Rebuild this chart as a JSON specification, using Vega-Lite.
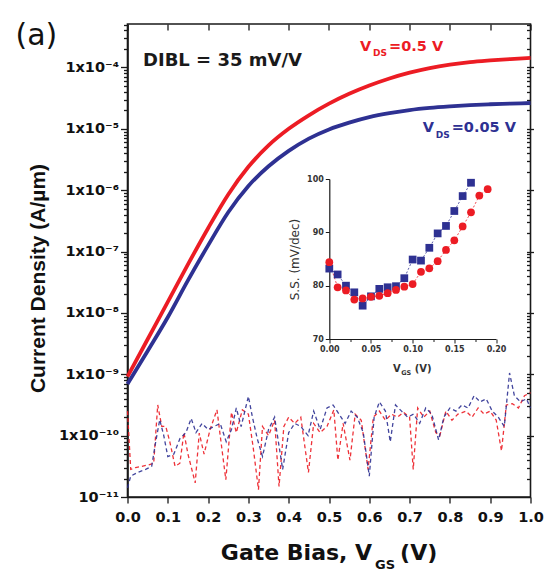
{
  "$schema": "https://vega.github.io/schema/vega-lite/v6.json",
  "width": 403,
  "height": 473,
  "autosize": {"type": "none"},
  "padding": {"left": 127.5, "top": 24, "right": 22.5, "bottom": 76},
  "background": "white",
  "title": {"text": "(a)", "anchor": "start", "frame": "group", "dx": -112, "dy": 63, "offset": 0, "baseline": "alphabetic", "font": "DejaVu Sans", "fontSize": 30, "fontWeight": "normal", "color": "#111111"},
  "config": {
    "view": {"stroke": "#1a1a1a", "strokeWidth": 1.6},
    "axis": {"grid": false, "domainColor": "#1a1a1a", "domainWidth": 1.6, "tickColor": "#1a1a1a", "tickWidth": 1.3, "labelColor": "#111111", "titleColor": "#111111", "labelFont": "DejaVu Sans", "labelFontWeight": "bold", "labelOverlap": false, "labelFlush": false, "labelBound": false}
  },
  "datasets": {
    "curves": [
      {"V": 0.00, "J": 9.12e-10, "Vds": "0.5 V"}, {"V": 0.05, "J": 3.72e-9, "Vds": "0.5 V"}, {"V": 0.10, "J": 1.51e-8, "Vds": "0.5 V"},
      {"V": 0.15, "J": 6.17e-8, "Vds": "0.5 V"}, {"V": 0.20, "J": 2.40e-7, "Vds": "0.5 V"}, {"V": 0.25, "J": 8.51e-7, "Vds": "0.5 V"},
      {"V": 0.30, "J": 2.40e-6, "Vds": "0.5 V"}, {"V": 0.35, "J": 5.37e-6, "Vds": "0.5 V"}, {"V": 0.40, "J": 1.00e-5, "Vds": "0.5 V"},
      {"V": 0.45, "J": 1.66e-5, "Vds": "0.5 V"}, {"V": 0.50, "J": 2.57e-5, "Vds": "0.5 V"}, {"V": 0.55, "J": 3.72e-5, "Vds": "0.5 V"},
      {"V": 0.60, "J": 5.07e-5, "Vds": "0.5 V"}, {"V": 0.65, "J": 6.61e-5, "Vds": "0.5 V"}, {"V": 0.70, "J": 8.22e-5, "Vds": "0.5 V"},
      {"V": 0.75, "J": 9.77e-5, "Vds": "0.5 V"}, {"V": 0.80, "J": 1.11e-4, "Vds": "0.5 V"}, {"V": 0.85, "J": 1.22e-4, "Vds": "0.5 V"},
      {"V": 0.90, "J": 1.30e-4, "Vds": "0.5 V"}, {"V": 0.95, "J": 1.37e-4, "Vds": "0.5 V"}, {"V": 1.00, "J": 1.43e-4, "Vds": "0.5 V"},
      {"V": 0.00, "J": 6.92e-10, "Vds": "0.05 V"}, {"V": 0.05, "J": 2.40e-9, "Vds": "0.05 V"}, {"V": 0.10, "J": 8.51e-9, "Vds": "0.05 V"},
      {"V": 0.15, "J": 3.39e-8, "Vds": "0.05 V"}, {"V": 0.20, "J": 1.26e-7, "Vds": "0.05 V"}, {"V": 0.25, "J": 4.37e-7, "Vds": "0.05 V"},
      {"V": 0.30, "J": 1.17e-6, "Vds": "0.05 V"}, {"V": 0.35, "J": 2.45e-6, "Vds": "0.05 V"}, {"V": 0.40, "J": 4.37e-6, "Vds": "0.05 V"},
      {"V": 0.45, "J": 6.92e-6, "Vds": "0.05 V"}, {"V": 0.50, "J": 9.77e-6, "Vds": "0.05 V"}, {"V": 0.55, "J": 1.26e-5, "Vds": "0.05 V"},
      {"V": 0.60, "J": 1.55e-5, "Vds": "0.05 V"}, {"V": 0.65, "J": 1.80e-5, "Vds": "0.05 V"}, {"V": 0.70, "J": 2.02e-5, "Vds": "0.05 V"},
      {"V": 0.75, "J": 2.19e-5, "Vds": "0.05 V"}, {"V": 0.80, "J": 2.32e-5, "Vds": "0.05 V"}, {"V": 0.85, "J": 2.43e-5, "Vds": "0.05 V"},
      {"V": 0.90, "J": 2.51e-5, "Vds": "0.05 V"}, {"V": 0.95, "J": 2.57e-5, "Vds": "0.05 V"}, {"V": 1.00, "J": 2.63e-5, "Vds": "0.05 V"}
    ],
    "noise": [
      {"V": 0.000, "J": 2.51e-10, "Vds": "0.5 V"}, {"V": 0.008, "J": 2.82e-11, "Vds": "0.5 V"}, {"V": 0.020, "J": 3.02e-11, "Vds": "0.5 V"},
      {"V": 0.035, "J": 3.16e-11, "Vds": "0.5 V"}, {"V": 0.050, "J": 3.31e-11, "Vds": "0.5 V"}, {"V": 0.065, "J": 3.55e-11, "Vds": "0.5 V"},
      {"V": 0.075, "J": 3.16e-10, "Vds": "0.5 V"}, {"V": 0.085, "J": 1.41e-10, "Vds": "0.5 V"}, {"V": 0.095, "J": 1.41e-10, "Vds": "0.5 V"},
      {"V": 0.105, "J": 7.94e-11, "Vds": "0.5 V"}, {"V": 0.118, "J": 3.16e-11, "Vds": "0.5 V"}, {"V": 0.130, "J": 3.55e-11, "Vds": "0.5 V"},
      {"V": 0.140, "J": 1.12e-10, "Vds": "0.5 V"}, {"V": 0.150, "J": 5.01e-11, "Vds": "0.5 V"}, {"V": 0.168, "J": 1.70e-11, "Vds": "0.5 V"},
      {"V": 0.178, "J": 1.10e-10, "Vds": "0.5 V"}, {"V": 0.190, "J": 5.01e-11, "Vds": "0.5 V"}, {"V": 0.205, "J": 1.26e-10, "Vds": "0.5 V"},
      {"V": 0.222, "J": 2.63e-10, "Vds": "0.5 V"}, {"V": 0.232, "J": 7.94e-11, "Vds": "0.5 V"}, {"V": 0.244, "J": 1.91e-11, "Vds": "0.5 V"},
      {"V": 0.258, "J": 2.40e-10, "Vds": "0.5 V"}, {"V": 0.270, "J": 1.12e-10, "Vds": "0.5 V"}, {"V": 0.285, "J": 2.63e-10, "Vds": "0.5 V"},
      {"V": 0.300, "J": 2.24e-10, "Vds": "0.5 V"}, {"V": 0.312, "J": 6.31e-11, "Vds": "0.5 V"}, {"V": 0.325, "J": 1.32e-11, "Vds": "0.5 V"},
      {"V": 0.335, "J": 1.41e-10, "Vds": "0.5 V"}, {"V": 0.350, "J": 1.00e-10, "Vds": "0.5 V"}, {"V": 0.365, "J": 1.78e-10, "Vds": "0.5 V"},
      {"V": 0.376, "J": 1.48e-11, "Vds": "0.5 V"}, {"V": 0.388, "J": 1.41e-10, "Vds": "0.5 V"}, {"V": 0.400, "J": 2.00e-10, "Vds": "0.5 V"},
      {"V": 0.415, "J": 1.58e-10, "Vds": "0.5 V"}, {"V": 0.430, "J": 2.00e-10, "Vds": "0.5 V"}, {"V": 0.449, "J": 2.51e-11, "Vds": "0.5 V"},
      {"V": 0.462, "J": 1.58e-10, "Vds": "0.5 V"}, {"V": 0.478, "J": 1.12e-10, "Vds": "0.5 V"}, {"V": 0.495, "J": 1.41e-10, "Vds": "0.5 V"},
      {"V": 0.512, "J": 2.63e-10, "Vds": "0.5 V"}, {"V": 0.522, "J": 3.98e-11, "Vds": "0.5 V"}, {"V": 0.535, "J": 1.58e-10, "Vds": "0.5 V"},
      {"V": 0.552, "J": 3.98e-11, "Vds": "0.5 V"}, {"V": 0.565, "J": 2.24e-10, "Vds": "0.5 V"}, {"V": 0.580, "J": 1.78e-10, "Vds": "0.5 V"},
      {"V": 0.597, "J": 2.82e-11, "Vds": "0.5 V"}, {"V": 0.610, "J": 2.00e-10, "Vds": "0.5 V"}, {"V": 0.625, "J": 2.51e-10, "Vds": "0.5 V"},
      {"V": 0.640, "J": 1.78e-10, "Vds": "0.5 V"}, {"V": 0.655, "J": 2.24e-10, "Vds": "0.5 V"}, {"V": 0.670, "J": 2.00e-10, "Vds": "0.5 V"},
      {"V": 0.685, "J": 2.40e-10, "Vds": "0.5 V"}, {"V": 0.700, "J": 2.00e-10, "Vds": "0.5 V"}, {"V": 0.709, "J": 2.82e-11, "Vds": "0.5 V"},
      {"V": 0.720, "J": 2.82e-10, "Vds": "0.5 V"}, {"V": 0.735, "J": 2.00e-10, "Vds": "0.5 V"}, {"V": 0.750, "J": 2.51e-10, "Vds": "0.5 V"},
      {"V": 0.765, "J": 1.12e-10, "Vds": "0.5 V"}, {"V": 0.775, "J": 1.00e-10, "Vds": "0.5 V"}, {"V": 0.790, "J": 2.51e-10, "Vds": "0.5 V"},
      {"V": 0.805, "J": 1.78e-10, "Vds": "0.5 V"}, {"V": 0.820, "J": 2.24e-10, "Vds": "0.5 V"}, {"V": 0.840, "J": 2.51e-10, "Vds": "0.5 V"},
      {"V": 0.855, "J": 2.00e-10, "Vds": "0.5 V"}, {"V": 0.870, "J": 2.82e-10, "Vds": "0.5 V"}, {"V": 0.885, "J": 2.24e-10, "Vds": "0.5 V"},
      {"V": 0.900, "J": 2.51e-10, "Vds": "0.5 V"}, {"V": 0.915, "J": 1.78e-10, "Vds": "0.5 V"}, {"V": 0.928, "J": 5.62e-11, "Vds": "0.5 V"},
      {"V": 0.940, "J": 3.16e-10, "Vds": "0.5 V"}, {"V": 0.955, "J": 3.31e-10, "Vds": "0.5 V"}, {"V": 0.970, "J": 2.82e-10, "Vds": "0.5 V"},
      {"V": 0.985, "J": 4.47e-10, "Vds": "0.5 V"}, {"V": 1.000, "J": 5.01e-10, "Vds": "0.5 V"},
      {"V": 0.000, "J": 1.41e-11, "Vds": "0.05 V"}, {"V": 0.008, "J": 2.19e-11, "Vds": "0.05 V"}, {"V": 0.025, "J": 2.51e-11, "Vds": "0.05 V"},
      {"V": 0.045, "J": 2.82e-11, "Vds": "0.05 V"}, {"V": 0.060, "J": 3.16e-11, "Vds": "0.05 V"}, {"V": 0.070, "J": 7.94e-11, "Vds": "0.05 V"},
      {"V": 0.080, "J": 1.82e-10, "Vds": "0.05 V"}, {"V": 0.090, "J": 1.00e-10, "Vds": "0.05 V"}, {"V": 0.100, "J": 4.57e-11, "Vds": "0.05 V"},
      {"V": 0.115, "J": 5.01e-11, "Vds": "0.05 V"}, {"V": 0.130, "J": 8.91e-11, "Vds": "0.05 V"}, {"V": 0.145, "J": 1.12e-10, "Vds": "0.05 V"},
      {"V": 0.158, "J": 1.91e-10, "Vds": "0.05 V"}, {"V": 0.170, "J": 1.12e-10, "Vds": "0.05 V"}, {"V": 0.185, "J": 1.58e-10, "Vds": "0.05 V"},
      {"V": 0.200, "J": 1.26e-10, "Vds": "0.05 V"}, {"V": 0.215, "J": 1.41e-10, "Vds": "0.05 V"}, {"V": 0.230, "J": 1.58e-10, "Vds": "0.05 V"},
      {"V": 0.245, "J": 7.94e-11, "Vds": "0.05 V"}, {"V": 0.258, "J": 1.26e-10, "Vds": "0.05 V"}, {"V": 0.270, "J": 2.82e-10, "Vds": "0.05 V"},
      {"V": 0.282, "J": 1.41e-10, "Vds": "0.05 V"}, {"V": 0.300, "J": 4.37e-10, "Vds": "0.05 V"}, {"V": 0.310, "J": 2.00e-10, "Vds": "0.05 V"},
      {"V": 0.322, "J": 8.91e-11, "Vds": "0.05 V"}, {"V": 0.335, "J": 4.57e-11, "Vds": "0.05 V"}, {"V": 0.350, "J": 1.26e-10, "Vds": "0.05 V"},
      {"V": 0.365, "J": 2.00e-10, "Vds": "0.05 V"}, {"V": 0.385, "J": 2.82e-11, "Vds": "0.05 V"}, {"V": 0.400, "J": 1.12e-10, "Vds": "0.05 V"},
      {"V": 0.415, "J": 1.58e-10, "Vds": "0.05 V"}, {"V": 0.430, "J": 1.41e-10, "Vds": "0.05 V"}, {"V": 0.448, "J": 1.00e-10, "Vds": "0.05 V"},
      {"V": 0.462, "J": 2.51e-10, "Vds": "0.05 V"}, {"V": 0.478, "J": 1.26e-10, "Vds": "0.05 V"}, {"V": 0.495, "J": 2.82e-10, "Vds": "0.05 V"},
      {"V": 0.510, "J": 3.16e-10, "Vds": "0.05 V"}, {"V": 0.525, "J": 2.24e-10, "Vds": "0.05 V"}, {"V": 0.540, "J": 1.58e-10, "Vds": "0.05 V"},
      {"V": 0.555, "J": 2.51e-10, "Vds": "0.05 V"}, {"V": 0.570, "J": 2.00e-10, "Vds": "0.05 V"}, {"V": 0.585, "J": 1.12e-10, "Vds": "0.05 V"},
      {"V": 0.600, "J": 2.19e-11, "Vds": "0.05 V"}, {"V": 0.612, "J": 2.00e-10, "Vds": "0.05 V"}, {"V": 0.625, "J": 3.55e-10, "Vds": "0.05 V"},
      {"V": 0.640, "J": 2.51e-10, "Vds": "0.05 V"}, {"V": 0.652, "J": 7.94e-11, "Vds": "0.05 V"}, {"V": 0.665, "J": 3.16e-10, "Vds": "0.05 V"},
      {"V": 0.680, "J": 2.51e-10, "Vds": "0.05 V"}, {"V": 0.695, "J": 2.00e-10, "Vds": "0.05 V"}, {"V": 0.710, "J": 2.24e-10, "Vds": "0.05 V"},
      {"V": 0.725, "J": 1.58e-10, "Vds": "0.05 V"}, {"V": 0.740, "J": 2.82e-10, "Vds": "0.05 V"}, {"V": 0.755, "J": 2.24e-10, "Vds": "0.05 V"},
      {"V": 0.772, "J": 8.51e-11, "Vds": "0.05 V"}, {"V": 0.785, "J": 2.00e-10, "Vds": "0.05 V"}, {"V": 0.800, "J": 2.82e-10, "Vds": "0.05 V"},
      {"V": 0.815, "J": 2.51e-10, "Vds": "0.05 V"}, {"V": 0.830, "J": 3.16e-10, "Vds": "0.05 V"}, {"V": 0.845, "J": 2.82e-10, "Vds": "0.05 V"},
      {"V": 0.860, "J": 4.47e-10, "Vds": "0.05 V"}, {"V": 0.875, "J": 3.55e-10, "Vds": "0.05 V"}, {"V": 0.890, "J": 3.98e-10, "Vds": "0.05 V"},
      {"V": 0.905, "J": 2.51e-10, "Vds": "0.05 V"}, {"V": 0.920, "J": 2.00e-10, "Vds": "0.05 V"}, {"V": 0.935, "J": 1.41e-10, "Vds": "0.05 V"},
      {"V": 0.948, "J": 1.05e-9, "Vds": "0.05 V"}, {"V": 0.960, "J": 4.47e-10, "Vds": "0.05 V"}, {"V": 0.975, "J": 3.55e-10, "Vds": "0.05 V"},
      {"V": 0.990, "J": 3.98e-10, "Vds": "0.05 V"}, {"V": 1.000, "J": 2.82e-10, "Vds": "0.05 V"}
    ],
    "inset": [
      {"Vgs": 0.00, "SS": 83.2, "Vds": "0.05 V"}, {"Vgs": 0.01, "SS": 82.1, "Vds": "0.05 V"}, {"Vgs": 0.02, "SS": 80.0, "Vds": "0.05 V"},
      {"Vgs": 0.03, "SS": 78.75, "Vds": "0.05 V"}, {"Vgs": 0.04, "SS": 76.25, "Vds": "0.05 V"}, {"Vgs": 0.05, "SS": 78.0, "Vds": "0.05 V"},
      {"Vgs": 0.06, "SS": 79.4, "Vds": "0.05 V"}, {"Vgs": 0.07, "SS": 79.7, "Vds": "0.05 V"}, {"Vgs": 0.08, "SS": 79.9, "Vds": "0.05 V"},
      {"Vgs": 0.09, "SS": 81.4, "Vds": "0.05 V"}, {"Vgs": 0.10, "SS": 84.9, "Vds": "0.05 V"}, {"Vgs": 0.11, "SS": 84.7, "Vds": "0.05 V"},
      {"Vgs": 0.12, "SS": 87.1, "Vds": "0.05 V"}, {"Vgs": 0.13, "SS": 89.8, "Vds": "0.05 V"}, {"Vgs": 0.14, "SS": 91.2, "Vds": "0.05 V"},
      {"Vgs": 0.15, "SS": 94.0, "Vds": "0.05 V"}, {"Vgs": 0.16, "SS": 96.8, "Vds": "0.05 V"}, {"Vgs": 0.17, "SS": 99.3, "Vds": "0.05 V"},
      {"Vgs": 0.00, "SS": 84.4, "Vds": "0.5 V"}, {"Vgs": 0.01, "SS": 79.7, "Vds": "0.5 V"}, {"Vgs": 0.02, "SS": 79.1, "Vds": "0.5 V"},
      {"Vgs": 0.03, "SS": 77.4, "Vds": "0.5 V"}, {"Vgs": 0.04, "SS": 77.6, "Vds": "0.5 V"}, {"Vgs": 0.05, "SS": 77.9, "Vds": "0.5 V"},
      {"Vgs": 0.06, "SS": 78.1, "Vds": "0.5 V"}, {"Vgs": 0.07, "SS": 78.6, "Vds": "0.5 V"}, {"Vgs": 0.08, "SS": 79.2, "Vds": "0.5 V"},
      {"Vgs": 0.09, "SS": 79.8, "Vds": "0.5 V"}, {"Vgs": 0.10, "SS": 80.3, "Vds": "0.5 V"}, {"Vgs": 0.11, "SS": 82.6, "Vds": "0.5 V"},
      {"Vgs": 0.12, "SS": 83.25, "Vds": "0.5 V"}, {"Vgs": 0.13, "SS": 84.6, "Vds": "0.5 V"}, {"Vgs": 0.14, "SS": 86.7, "Vds": "0.5 V"},
      {"Vgs": 0.15, "SS": 88.5, "Vds": "0.5 V"}, {"Vgs": 0.16, "SS": 91.1, "Vds": "0.5 V"}, {"Vgs": 0.17, "SS": 93.75, "Vds": "0.5 V"},
      {"Vgs": 0.18, "SS": 96.9, "Vds": "0.5 V"}, {"Vgs": 0.19, "SS": 98.1, "Vds": "0.5 V"}
    ]
  },
  "resolve": {"scale": {"x": "independent", "y": "independent"}, "axis": {"x": "independent", "y": "independent"}},
  "layer": [
    {
      "layer": [
        {
          "data": {"name": "noise"},
          "mark": {"type": "line", "strokeWidth": 1.3, "strokeDash": [4, 3], "opacity": 0.9},
          "encoding": {
            "x": {"field": "V", "type": "quantitative", "scale": {"domain": [0, 1], "nice": false, "zero": false},
              "axis": {"orient": "bottom", "values": [0, 0.1, 0.2, 0.3, 0.4, 0.5, 0.6, 0.7, 0.8, 0.9, 1.0], "format": ".1f", "title": null, "tickSize": 6, "labelPadding": 7, "labelFontSize": 14.5, "labelOverlap": false}},
            "y": {"field": "J", "type": "quantitative", "scale": {"type": "log", "domain": [1e-11, 5.1e-4], "nice": false},
              "axis": {"orient": "left", "labelOverlap": false,
                "values": [1e-11, 2e-11, 3e-11, 4e-11, 5e-11, 6e-11, 7e-11, 8e-11, 9e-11, 1e-10, 2e-10, 3e-10, 4e-10, 5e-10, 6e-10, 7e-10, 8e-10, 9e-10, 1e-9, 2e-9, 3e-9, 4e-9, 5e-9, 6e-9, 7e-9, 8e-9, 9e-9, 1e-8, 2e-8, 3e-8, 4e-8, 5e-8, 6e-8, 7e-8, 8e-8, 9e-8, 1e-7, 2e-7, 3e-7, 4e-7, 5e-7, 6e-7, 7e-7, 8e-7, 9e-7, 1e-6, 2e-6, 3e-6, 4e-6, 5e-6, 6e-6, 7e-6, 8e-6, 9e-6, 1e-5, 2e-5, 3e-5, 4e-5, 5e-5, 6e-5, 7e-5, 8e-5, 9e-5, 1e-4, 2e-4, 3e-4, 4e-4, 5e-4],
                "labelExpr": "abs(log(datum.value)/LN10 - round(log(datum.value)/LN10)) > 0.01 ? '' : round(log(datum.value)/LN10) == -4 ? '1x10⁻⁴' : round(log(datum.value)/LN10) == -5 ? '1x10⁻⁵' : round(log(datum.value)/LN10) == -6 ? '1x10⁻⁶' : round(log(datum.value)/LN10) == -7 ? '1x10⁻⁷' : round(log(datum.value)/LN10) == -8 ? '1x10⁻⁸' : round(log(datum.value)/LN10) == -9 ? '1x10⁻⁹' : round(log(datum.value)/LN10) == -10 ? '1x10⁻¹⁰' : '10⁻¹¹'",
                "tickSize": {"condition": {"test": "abs(log(datum.value)/LN10 - round(log(datum.value)/LN10)) < 0.01", "value": 7}, "value": 4},
                "labelPadding": 2, "labelFontSize": 14.5,
                "title": "Current Density (A/µm)", "titleFont": "Liberation Sans", "titleFontSize": 21, "titleFontWeight": "bold", "titlePadding": 10, "titleY": 254}},
            "color": {"field": "Vds", "type": "nominal", "scale": {"domain": ["0.5 V", "0.05 V"], "range": ["#ec1c24", "#2e3192"]}, "legend": null}
          }
        },
        {
          "data": {"values": [{}]},
          "mark": {"type": "text", "text": "DIBL = 35 mV/V", "align": "left", "baseline": "alphabetic", "font": "DejaVu Sans", "fontWeight": "bold", "fontSize": 18, "color": "#1a1a1a"},
          "encoding": {"x": {"datum": 0.0385, "type": "quantitative"}, "y": {"datum": 1.06e-4, "type": "quantitative"}}
        },
        {
          "data": {"values": [{}]},
          "mark": {"type": "text", "text": "V", "align": "left", "baseline": "alphabetic", "font": "DejaVu Sans", "fontWeight": "bold", "fontSize": 14.5, "color": "#ec1c24"},
          "encoding": {"x": {"datum": 0.577, "type": "quantitative"}, "y": {"datum": 1.88e-4, "type": "quantitative"}}
        },
        {
          "data": {"values": [{}]},
          "mark": {"type": "text", "text": "DS", "align": "left", "baseline": "alphabetic", "dx": 13, "dy": 5.5, "font": "DejaVu Sans", "fontWeight": "bold", "fontSize": 9, "color": "#ec1c24"},
          "encoding": {"x": {"datum": 0.577, "type": "quantitative"}, "y": {"datum": 1.88e-4, "type": "quantitative"}}
        },
        {
          "data": {"values": [{}]},
          "mark": {"type": "text", "text": "=0.5 V", "align": "left", "baseline": "alphabetic", "dx": 29, "font": "DejaVu Sans", "fontWeight": "bold", "fontSize": 14.5, "color": "#ec1c24"},
          "encoding": {"x": {"datum": 0.577, "type": "quantitative"}, "y": {"datum": 1.88e-4, "type": "quantitative"}}
        },
        {
          "data": {"values": [{}]},
          "mark": {"type": "text", "text": "V", "align": "left", "baseline": "alphabetic", "font": "DejaVu Sans", "fontWeight": "bold", "fontSize": 14.5, "color": "#2e3192"},
          "encoding": {"x": {"datum": 0.7325, "type": "quantitative"}, "y": {"datum": 8.77e-6, "type": "quantitative"}}
        },
        {
          "data": {"values": [{}]},
          "mark": {"type": "text", "text": "DS", "align": "left", "baseline": "alphabetic", "dx": 13, "dy": 5.5, "font": "DejaVu Sans", "fontWeight": "bold", "fontSize": 9, "color": "#2e3192"},
          "encoding": {"x": {"datum": 0.7325, "type": "quantitative"}, "y": {"datum": 8.77e-6, "type": "quantitative"}}
        },
        {
          "data": {"values": [{}]},
          "mark": {"type": "text", "text": "=0.05 V", "align": "left", "baseline": "alphabetic", "dx": 29, "font": "DejaVu Sans", "fontWeight": "bold", "fontSize": 14.5, "color": "#2e3192"},
          "encoding": {"x": {"datum": 0.7325, "type": "quantitative"}, "y": {"datum": 8.77e-6, "type": "quantitative"}}
        },
        {
          "data": {"values": [{}]},
          "mark": {"type": "text", "text": "Gate Bias, V", "align": "right", "baseline": "alphabetic", "dy": 62.5, "font": "DejaVu Sans", "fontWeight": "bold", "fontSize": 22, "color": "#111111"},
          "encoding": {"x": {"datum": 0.607, "type": "quantitative"}, "y": {"datum": 1e-11, "type": "quantitative"}}
        },
        {
          "data": {"values": [{}]},
          "mark": {"type": "text", "text": "GS", "align": "left", "baseline": "alphabetic", "dx": 3, "dy": 72, "font": "DejaVu Sans", "fontWeight": "bold", "fontSize": 13, "color": "#111111"},
          "encoding": {"x": {"datum": 0.607, "type": "quantitative"}, "y": {"datum": 1e-11, "type": "quantitative"}}
        },
        {
          "data": {"values": [{}]},
          "mark": {"type": "text", "text": "(V)", "align": "left", "baseline": "alphabetic", "dx": 28, "dy": 62.5, "font": "DejaVu Sans", "fontWeight": "bold", "fontSize": 22, "color": "#111111"},
          "encoding": {"x": {"datum": 0.607, "type": "quantitative"}, "y": {"datum": 1e-11, "type": "quantitative"}}
        }
      ]
    },
    {
      "data": {"name": "curves"},
      "mark": {"type": "line", "strokeWidth": 3.8, "interpolate": "monotone"},
      "encoding": {
        "x": {"field": "V", "type": "quantitative", "scale": {"domain": [0, 1.0000001], "nice": false, "zero": false},
          "axis": {"orient": "top", "values": [0, 0.1, 0.2, 0.3, 0.4, 0.5, 0.6, 0.7, 0.8, 0.9, 1.0], "labelExpr": "''", "title": null, "domain": false, "ticks": true, "tickSize": 6, "offset": -6}},
        "y": {"field": "J", "type": "quantitative", "scale": {"type": "log", "domain": [1.0000001e-11, 5.1000001e-4], "nice": false},
          "axis": {"orient": "right", "labelExpr": "''", "title": null, "domain": false, "ticks": true, "offset": -4,
            "values": [1e-11, 2e-11, 3e-11, 4e-11, 5e-11, 6e-11, 7e-11, 8e-11, 9e-11, 1e-10, 2e-10, 3e-10, 4e-10, 5e-10, 6e-10, 7e-10, 8e-10, 9e-10, 1e-9, 2e-9, 3e-9, 4e-9, 5e-9, 6e-9, 7e-9, 8e-9, 9e-9, 1e-8, 2e-8, 3e-8, 4e-8, 5e-8, 6e-8, 7e-8, 8e-8, 9e-8, 1e-7, 2e-7, 3e-7, 4e-7, 5e-7, 6e-7, 7e-7, 8e-7, 9e-7, 1e-6, 2e-6, 3e-6, 4e-6, 5e-6, 6e-6, 7e-6, 8e-6, 9e-6, 1e-5, 2e-5, 3e-5, 4e-5, 5e-5, 6e-5, 7e-5, 8e-5, 9e-5, 1e-4, 2e-4, 3e-4, 4e-4, 5e-4],
            "tickSize": {"condition": {"test": "abs(log(datum.value)/LN10 - round(log(datum.value)/LN10)) < 0.01", "value": 7}, "value": 4}}},
        "color": {"field": "Vds", "type": "nominal", "legend": null}
      }
    },
    {
      "data": {"name": "inset"},
      "layer": [
        {
          "mark": {"type": "line", "strokeWidth": 0.8, "strokeDash": [2, 2]},
          "encoding": {
            "x": {"field": "Vgs", "type": "quantitative", "scale": {"domain": [0, 0.2], "range": [201.8, 368.5], "nice": false, "zero": false},
              "axis": {"orient": "bottom", "offset": -158, "values": [0, 0.025, 0.05, 0.075, 0.1, 0.125, 0.15, 0.175, 0.2], "labelOverlap": false,
                "labelExpr": "abs(datum.value*20 - round(datum.value*20)) < 0.001 ? format(datum.value, '.2f') : ''",
                "tickSize": {"condition": {"test": "abs(datum.value*20 - round(datum.value*20)) < 0.001", "value": 4}, "value": 2.5},
                "labelFontSize": 8, "labelPadding": 2, "labelColor": "#333333", "title": null, "domainWidth": 1.2, "tickWidth": 1}},
            "y": {"field": "SS", "type": "quantitative", "scale": {"domain": [70, 100], "range": [315, 155], "nice": false, "zero": false},
              "axis": {"orient": "left", "offset": -201.8, "values": [70, 80, 90, 100], "labelOverlap": false, "format": "d",
                "tickSize": 4,
                "labelFontSize": 8, "labelPadding": 2, "labelColor": "#333333", "domainWidth": 1.2, "tickWidth": 1,
                "title": "S.S. (mV/dec)", "titleFont": "DejaVu Sans", "titleFontSize": 12, "titleFontWeight": "normal", "titleColor": "#333333", "titlePadding": 5}},
            "color": {"field": "Vds", "type": "nominal", "legend": null}
          }
        },
        {
          "mark": {"type": "point", "filled": true, "size": 60, "opacity": 1},
          "encoding": {
            "x": {"field": "Vgs", "type": "quantitative"},
            "y": {"field": "SS", "type": "quantitative"},
            "color": {"field": "Vds", "type": "nominal", "legend": null},
            "shape": {"field": "Vds", "type": "nominal", "scale": {"domain": ["0.5 V", "0.05 V"], "range": ["circle", "square"]}, "legend": null}
          }
        },
        {
          "data": {"values": [{}]},
          "mark": {"type": "text", "text": "V", "align": "right", "baseline": "alphabetic", "dx": -12, "dy": 32.7, "font": "DejaVu Sans", "fontWeight": "bold", "fontSize": 10, "color": "#333333"},
          "encoding": {"x": {"datum": 0.1, "type": "quantitative"}, "y": {"datum": 70, "type": "quantitative"}}
        },
        {
          "data": {"values": [{}]},
          "mark": {"type": "text", "text": "GS", "align": "left", "baseline": "alphabetic", "dx": -11.5, "dy": 35.5, "font": "DejaVu Sans", "fontWeight": "bold", "fontSize": 6.5, "color": "#333333"},
          "encoding": {"x": {"datum": 0.1, "type": "quantitative"}, "y": {"datum": 70, "type": "quantitative"}}
        },
        {
          "data": {"values": [{}]},
          "mark": {"type": "text", "text": "(V)", "align": "left", "baseline": "alphabetic", "dx": 2, "dy": 32.7, "font": "DejaVu Sans", "fontWeight": "bold", "fontSize": 10, "color": "#333333"},
          "encoding": {"x": {"datum": 0.1, "type": "quantitative"}, "y": {"datum": 70, "type": "quantitative"}}
        }
      ]
    }
  ]
}
